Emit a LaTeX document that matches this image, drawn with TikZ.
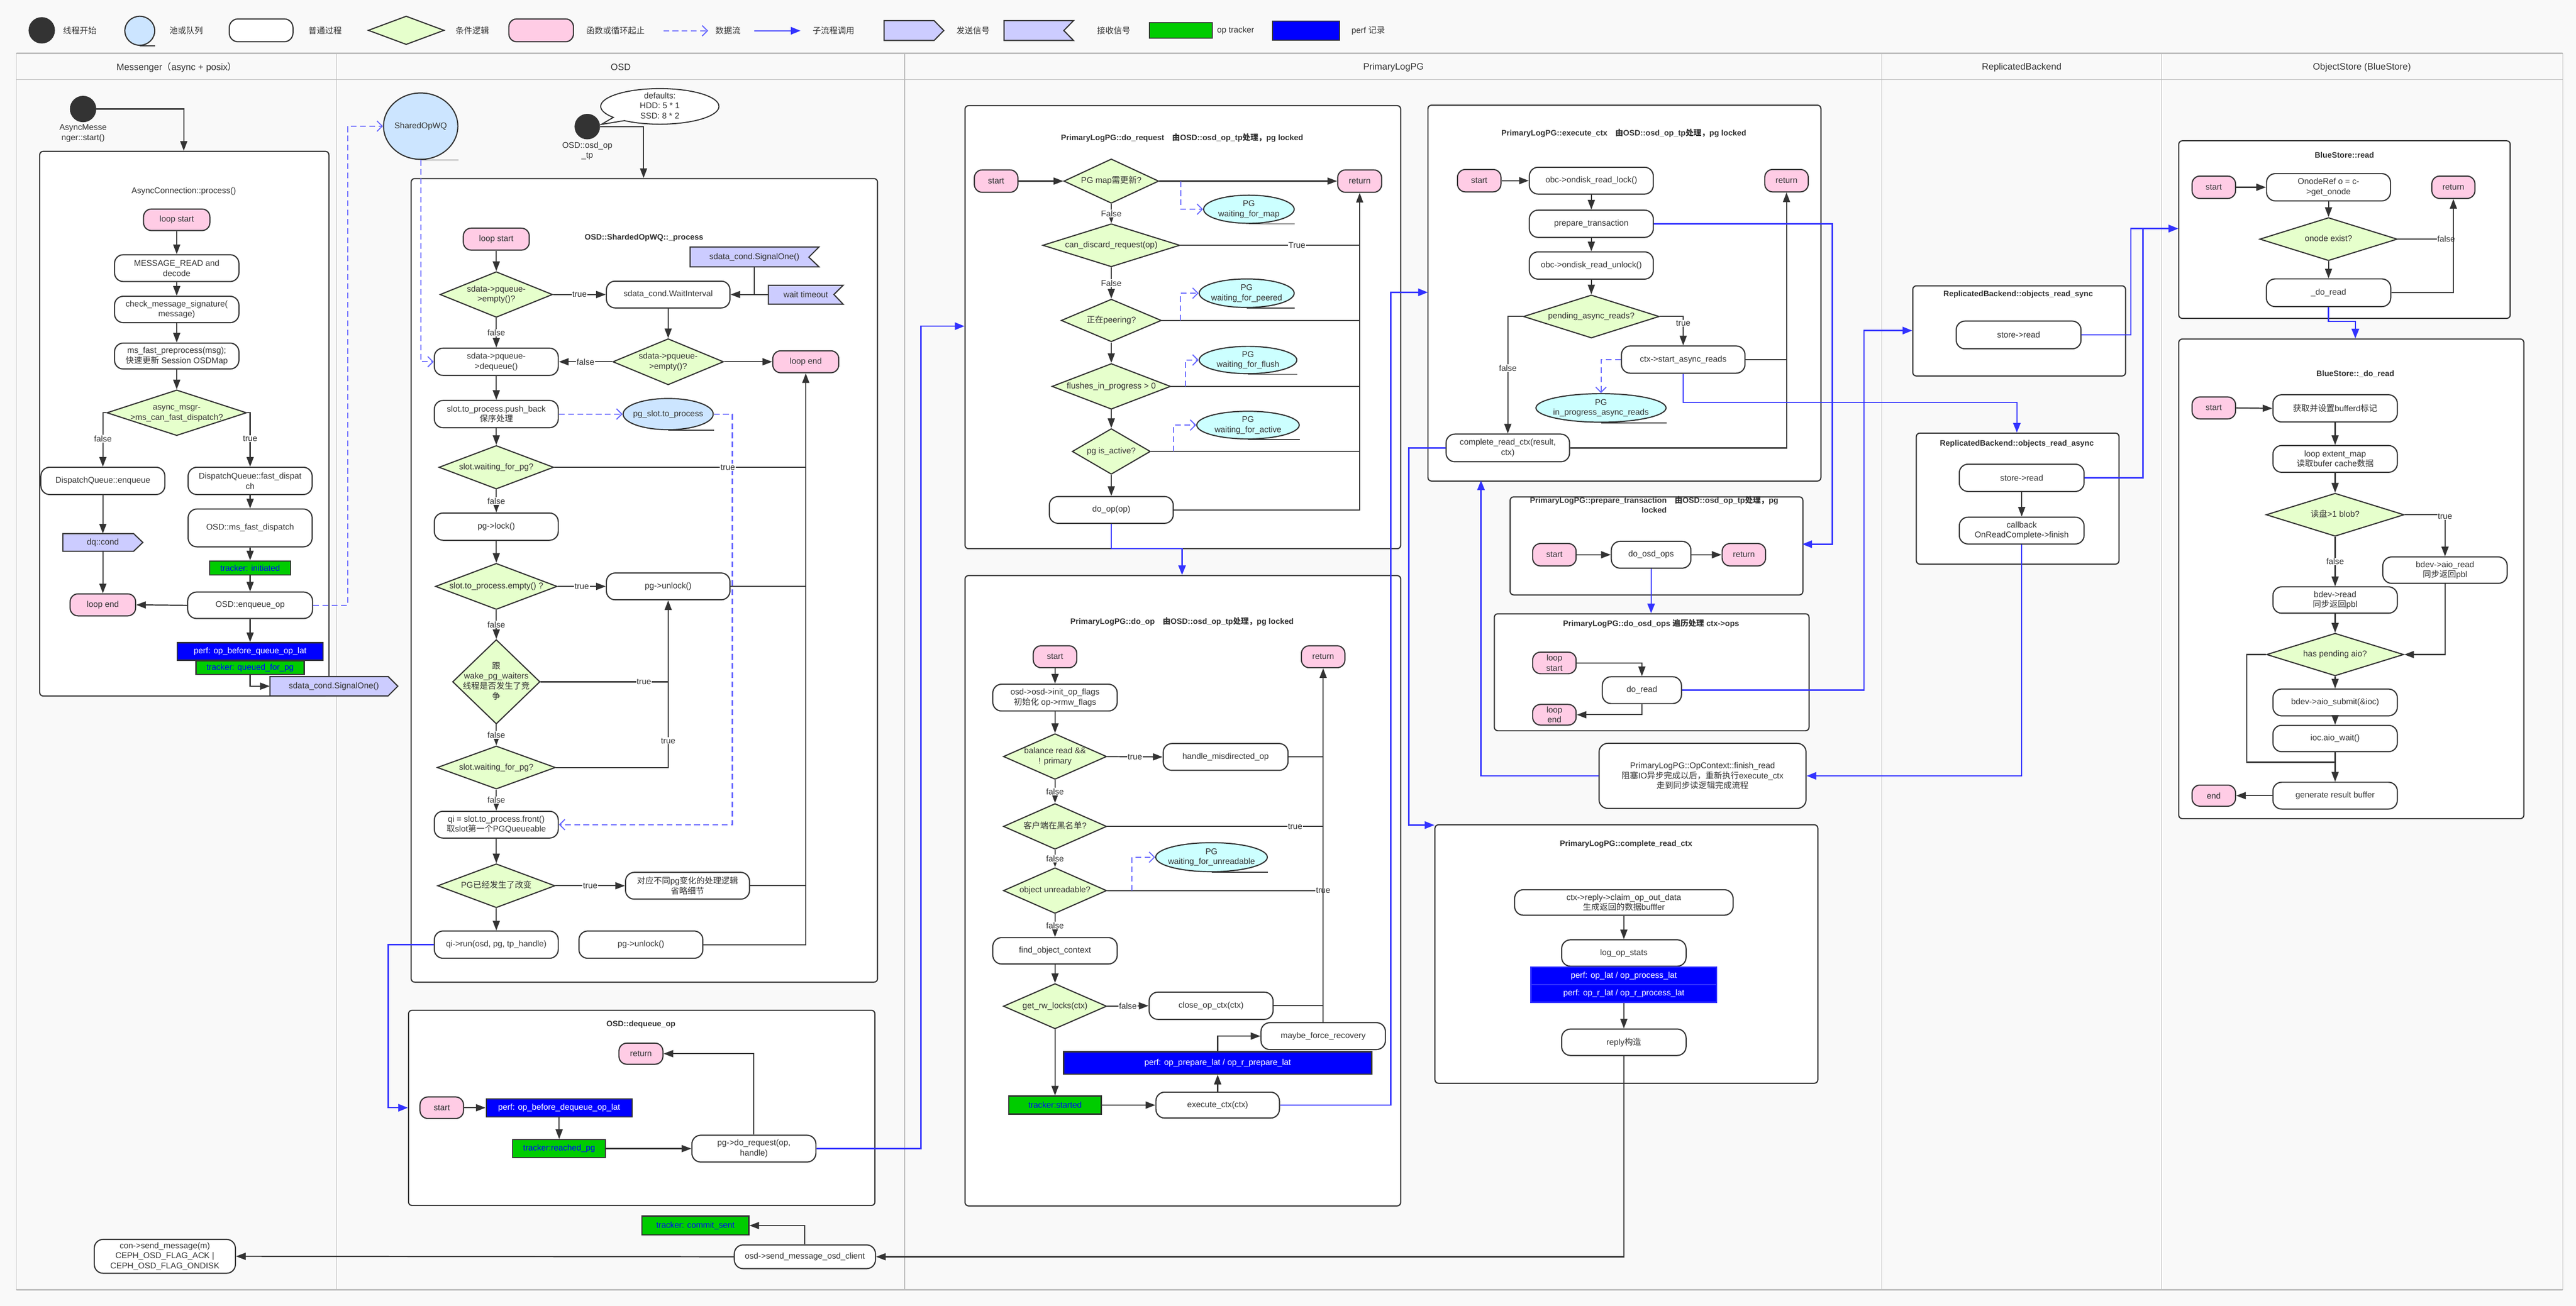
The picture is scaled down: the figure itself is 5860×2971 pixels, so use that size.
\documentclass[tikz,border=0pt]{standalone}
\usepackage{fontspec}
\setmainfont{Liberation Sans}
\newfontfamily\cjk{Noto Sans CJK SC}
\usetikzlibrary{arrows.meta,shapes.geometric,shapes.callouts}
\definecolor{dk}{HTML}{333333}
\definecolor{pinkc}{HTML}{FFCCE5}
\definecolor{greenc}{HTML}{E6FFCC}
\definecolor{qbl}{HTML}{CCE5FF}
\definecolor{cyc}{HTML}{CCFFFF}
\definecolor{sigc}{HTML}{CCCCFF}
\definecolor{trkc}{HTML}{00CC00}
\definecolor{bluec}{HTML}{3333FF}
\definecolor{dashc}{HTML}{6666FF}
\definecolor{perfc}{HTML}{0000FF}
\definecolor{bgc}{HTML}{F9F9F9}
\definecolor{lanec}{HTML}{BBBBBB}
\newcommand\zt[1]{\makebox[0pt]{\smash{\raisebox{-0.25em}{\begin{tabular}{@{}c@{}}#1\end{tabular}}}}}
\newcommand\zh[1]{{\cjk #1}}
\AtBeginDocument{\catcode`\_=12 }
\tikzset{
 base/.style={font=\fontsize{19}{23}\selectfont, text=dk},
 box/.style={base, draw=dk, line width=2.6pt, rounded corners=20pt, fill=white, align=center, inner sep=0pt},
 pbox/.style={box, fill=pinkc, rounded corners=18pt},
 dia/.style={base, draw=dk, line width=2.6pt, diamond, fill=greenc, inner sep=0pt},
 elq/.style={base, draw=dk, line width=2.6pt, ellipse, fill=qbl, inner sep=0pt},
 elc/.style={elq, fill=cyc},
 trk/.style={base, draw=dk, line width=2.6pt, fill=trkc, text=perfc, inner sep=0pt},
 prf/.style={base, draw=dk, line width=2.6pt, fill=perfc, text=white, inner sep=0pt},
 cont/.style={draw=dk, line width=2.6pt, rounded corners=8pt, fill=white, inner sep=0pt, anchor=north west},
 ttl/.style={base, font=\fontsize{18}{22}\selectfont\bfseries, align=center},
 lbl/.style={base, fill=white, inner sep=1.5pt},
 ln/.style={draw=dk, line width=2.6pt, -{Triangle[length=22pt,width=16pt]}},
 ln0/.style={draw=dk, line width=2.6pt},
 tail/.style={draw=dk, line width=2pt},
 bl/.style={draw=bluec, line width=2.8pt, -{Triangle[length=22pt,width=17pt]}},
 dsh/.style={draw=dashc, line width=2.4pt, dash pattern=on 13pt off 8pt, -{Straight Barb[length=12pt,width=24pt]}},
 sig/.style={draw=dk, line width=2.6pt, fill=sigc},
 sigt/.style={base, inner sep=0pt},
 lgt/.style={base, anchor=west},
 hdr/.style={base, font=\fontsize{21}{25}\selectfont},
 dot/.style={circle, fill=dk, inner sep=0pt, minimum size=60pt},
}
\begin{document}
\begin{tikzpicture}[x=1pt,y=-1pt]
\useasboundingbox (0,0) rectangle (5860,2971);
\fill[bgc] (0,0) rectangle (5860,2971);
% ---------- lanes ----------
\draw[lanec, line width=1.5pt] (37,121) rectangle (5830,2934);
\draw[lanec, line width=3pt] (37,121) -- (5830,121);
\draw[lanec, line width=3pt] (37,2934) -- (5830,2934);
\draw[lanec, line width=1.5pt] (37,181) -- (5830,181);
\foreach \x in {766,2058,4281,4917} \draw[lanec, line width=1.5pt] (\x,121) -- (\x,2934);
\node[hdr] (h1) at (402,153) {Messenger\zh{（}async + posix\zh{）}};
\node[hdr] (h2) at (1412,153) {OSD};
\node[hdr] (h3) at (3170,153) {PrimaryLogPG};
\node[hdr] (h4) at (4599,153) {ReplicatedBackend};
\node[hdr] (h5) at (5373,153) {ObjectStore (BlueStore)};
% ---------- legend ----------
\node[dot] (lg1) at (95,69) {};
\node[lgt] (lg1t) at (140,70) {\zh{线程开始}};
\node[elq, minimum width=68pt, minimum height=66pt] (lg2) at (318,70) {};
\draw[tail] (lg2.south) -- (lg2.south -| lg2.east);
\node[lgt] (lg2t) at (382,70) {\zh{池或队列}};
\node[box, minimum width=145pt, minimum height=52pt] (lg3) at (594,69) {};
\node[lgt] (lg3t) at (698,70) {\zh{普通过程}};
\node[dia, minimum width=173pt, minimum height=65pt] (lg4) at (924,69) {};
\node[lgt] (lg4t) at (1033,70) {\zh{条件逻辑}};
\node[pbox, minimum width=147pt, minimum height=52pt] (lg5) at (1231,69) {};
\node[lgt] (lg5t) at (1330,70) {\zh{函数或循环起止}};
\coordinate (lg6a) at (1509,70); \coordinate (lg6b) at (1611,70);
\node[lgt] (lg6t) at (1624,70) {\zh{数据流}};
\coordinate (lg7a) at (1716,70); \coordinate (lg7b) at (1821,70);
\node[lgt] (lg7t) at (1845,70) {\zh{子流程调用}};
\draw[sig] (2011,47) -- (2125,47) -- (2147,69.5) -- (2125,92) -- (2011,92) -- cycle;
\node[sigt, minimum width=136pt, minimum height=45pt] (lg8) at (2079,69.5) {};
\node[lgt] (lg8t) at (2172,70) {\zh{发送信号}};
\draw[sig] (2284,47) -- (2442,47) -- (2420,69.5) -- (2442,92) -- (2284,92) -- cycle;
\node[sigt, minimum width=158pt, minimum height=45pt] (lg9) at (2363,69.5) {};
\node[lgt] (lg9t) at (2492,70) {\zh{接收信号}};
\node[trk, minimum width=143pt, minimum height=35pt] (lg10) at (2686,69.5) {};
\node[lgt] (lg10t) at (2765,70) {op tracker};
\node[prf, minimum width=153pt, minimum height=43pt] (lg11) at (2971,69.5) {};
\node[lgt] (lg11t) at (3071,70) {perf \zh{记录}};
% ---------- Messenger ----------
\node[dot] (m0) at (189,248) {};
\node[base, align=center] (m0t) at (189,303) {AsyncMesse\\nger::start()};
\node[cont, minimum width=658pt, minimum height=1239pt] (mcont) at (89,343) {};
\coordinate (mct) at (418,343);
\node[base] (mttl) at (418,435) {AsyncConnection::process()};
\node[pbox, minimum width=151pt, minimum height=49pt] (mls) at (402,500) {loop start};
\node[box, minimum width=283pt, minimum height=61pt] (mrd) at (402,610) {MESSAGE_READ and\\decode};
\node[box, minimum width=283pt, minimum height=60pt] (mchk) at (402,704) {check_message_signature(\\message)};
\node[box, minimum width=283pt, minimum height=59pt] (mfp) at (402,810) {ms_fast_preprocess(msg);\\\zh{快速更新} Session OSDMap};
\node[dia, minimum width=318pt, minimum height=104pt] (mdia) at (402,939) {\zt{async_msgr-\\>ms_can_fast_dispatch?}};
\node[box, minimum width=282pt, minimum height=62pt] (menq) at (234,1094) {DispatchQueue::enqueue};
\node[box, minimum width=282pt, minimum height=62pt] (mfd) at (569,1094) {DispatchQueue::fast_dispat\\ch};
\node[box, minimum width=282pt, minimum height=86pt] (mmfd) at (569,1201) {OSD::ms_fast_dispatch};
\node[trk, minimum width=184pt, minimum height=32pt] (mtri) at (569,1292) {tracker: initiated};
\node[box, minimum width=284pt, minimum height=60pt] (meo) at (569,1377) {OSD::enqueue_op};
\node[pbox, minimum width=149pt, minimum height=50pt] (mle) at (234,1376) {loop end};
\draw[sig] (143,1214) -- (304,1214) -- (325,1234) -- (304,1254) -- (143,1254) -- cycle;
\node[sigt, minimum width=182pt, minimum height=40pt] (mdq) at (234,1234) {dq::cond};
\node[prf, minimum width=332pt, minimum height=40pt] (mperf) at (569,1482) {perf: op_before_queue_op_lat};
\node[trk, minimum width=246pt, minimum height=30pt] (mtrq) at (569,1519) {tracker: queued_for_pg};
\draw[sig] (614,1539) -- (883,1539) -- (905,1561) -- (883,1583) -- (614,1583) -- cycle;
\node[sigt, minimum width=291pt, minimum height=44pt] (msig) at (759.5,1561) {sdata_cond.SignalOne()};
% ---------- OSD ----------
\node[elq, minimum width=169pt, minimum height=151pt] (sq) at (957,287) {\zt{SharedOpWQ}};
\draw[tail] (sq.south) -- (sq.south -| sq.east);
\node[dot, minimum size=58pt] (oc) at (1336,288) {};
\node[base, align=center] (octx) at (1336,343) {OSD::osd_op\\_tp};
\node[ellipse callout, draw=dk, fill=white, line width=2.4pt, minimum width=269pt, minimum height=81pt, inner sep=0pt, callout absolute pointer={(1368,283)}, base] (odef) at (1501,242) {\zt{defaults:\\HDD: 5 * 1\\SSD: 8 * 2}};
\node[cont, minimum width=1061pt, minimum height=1828pt] (ocont) at (934,405) {};
\coordinate (ocin) at (1464,405);
\node[ttl] (ottl) at (1465,541) {OSD::ShardedOpWQ::_process};
\node[pbox, minimum width=150pt, minimum height=50pt] (ols) at (1129,544) {loop start};
\node[dia, minimum width=256pt, minimum height=104pt] (od1) at (1129,670) {\zt{sdata->pqueue-\\>empty()?}};
\node[box, minimum width=281pt, minimum height=61pt] (owi) at (1520,670) {sdata_cond.WaitInterval};
\draw[sig] (1570,562) -- (1863,562) -- (1840,585) -- (1863,607) -- (1570,607) -- cycle;
\node[sigt, minimum width=293pt, minimum height=45pt] (osig) at (1716,585) {sdata_cond.SignalOne()};
\draw[sig] (1748,649) -- (1918,649) -- (1897,670) -- (1918,692) -- (1748,692) -- cycle;
\node[sigt, minimum width=170pt, minimum height=43pt] (owt) at (1833,670) {wait timeout};
\node[dia, minimum width=252pt, minimum height=105pt] (od2) at (1520,823) {\zt{sdata->pqueue-\\>empty()?}};
\node[pbox, minimum width=150pt, minimum height=50pt] (ole) at (1833,823) {loop end};
\node[box, minimum width=282pt, minimum height=62pt] (odq) at (1129,823) {sdata->pqueue-\\>dequeue()};
\node[box, minimum width=282pt, minimum height=62pt] (opb) at (1129,942) {slot.to_process.push_back\\\zh{保序处理}};
\node[elq, minimum width=205pt, minimum height=71pt] (opsq) at (1520,942) {\zt{pg_slot.to_process}};
\draw[tail] (opsq.south) -- (opsq.south -| opsq.east);
\node[dia, minimum width=261pt, minimum height=99pt] (od3) at (1129,1063) {\zt{slot.waiting_for_pg?}};
\node[box, minimum width=282pt, minimum height=62pt] (olk) at (1129,1198) {pg->lock()};
\node[dia, minimum width=277pt, minimum height=105pt] (od4) at (1129,1334) {\zt{slot.to_process.empty() ?}};
\node[box, minimum width=281pt, minimum height=61pt] (oul1) at (1520,1334) {pg->unlock()};
\node[dia, minimum width=199pt, minimum height=192pt] (od5) at (1129,1551) {\zt{\zh{跟}\\wake_pg_waiters\\\zh{线程是否发生了竞}\\\zh{争}}};
\node[dia, minimum width=269pt, minimum height=98pt] (od6) at (1129,1746) {\zt{slot.waiting_for_pg?}};
\node[box, minimum width=282pt, minimum height=61pt] (oqi) at (1129,1876) {qi = slot.to_process.front()\\\zh{取}slot\zh{第一个}PGQueueable};
\node[dia, minimum width=267pt, minimum height=100pt] (od7) at (1129,2015) {\zt{PG\zh{已经发生了改变}}};
\node[box, minimum width=282pt, minimum height=61pt] (opc) at (1564,2015) {\zh{对应不同}pg\zh{变化的处理逻辑}\\\zh{省略细节}};
\node[box, minimum width=282pt, minimum height=62pt] (orun) at (1129,2149) {qi->run(osd, pg, tp_handle)};
\node[box, minimum width=282pt, minimum height=62pt] (oul2) at (1458,2149) {pg->unlock()};
\node[cont, minimum width=1061pt, minimum height=444pt] (dcont) at (928,2297) {};
\coordinate (dci) at (928,2520);
\node[ttl] (dttl) at (1458,2331) {OSD::dequeue_op};
\node[pbox, minimum width=100pt, minimum height=48pt] (dret) at (1458,2397) {return};
\node[pbox, minimum width=99pt, minimum height=49pt] (dst) at (1005,2520) {start};
\node[prf, minimum width=332pt, minimum height=41pt] (dperf) at (1272,2520) {perf: op_before_dequeue_op_lat};
\node[trk, minimum width=211pt, minimum height=41pt] (dtrk) at (1272,2613) {tracker:reached_pg};
\node[box, minimum width=282pt, minimum height=61pt] (ddr) at (1715,2613) {pg->do_request(op,\\handle)};
\node[trk, minimum width=243pt, minimum height=43pt] (ctrk) at (1582,2788) {tracker: commit_sent};
\node[box, minimum width=321pt, minimum height=54pt] (osm) at (1831,2859) {osd->send_message_osd_client};
\node[box, minimum width=321pt, minimum height=77pt] (mcon) at (375,2858) {con->send_message(m)\\CEPH_OSD_FLAG_ACK |\\CEPH_OSD_FLAG_ONDISK};
% ---------- PrimaryLogPG: do_request ----------
\node[cont, minimum width=991pt, minimum height=1008pt] (rcont) at (2194,239) {};
\coordinate (rqi) at (2194,742);
\node[ttl] (rttl) at (2689,314) {PrimaryLogPG::do_request\quad\zh{由}OSD::osd_op_tp\zh{处理，}pg locked};
\node[pbox, minimum width=99pt, minimum height=51pt] (rst) at (2266,412) {start};
\node[dia, minimum width=216pt, minimum height=101pt] (rd1) at (2528,412) {\zt{PG map\zh{需更新}?}};
\node[pbox, minimum width=100pt, minimum height=51pt] (rret) at (3093,412) {return};
\node[elc, minimum width=206pt, minimum height=64pt] (re1) at (2841,476) {\zt{PG\\waiting_for_map}};
\draw[tail] (re1.south) -- (re1.south -| re1.east);
\node[dia, minimum width=312pt, minimum height=98pt] (rd2) at (2528,558) {\zt{can_discard_request(op)}};
\node[dia, minimum width=228pt, minimum height=97pt] (rd3) at (2528,729) {\zt{\zh{正在}peering?}};
\node[elc, minimum width=216pt, minimum height=65pt] (re2) at (2836,667) {\zt{PG\\waiting_for_peered}};
\draw[tail] (re2.south) -- (re2.south -| re2.east);
\node[dia, minimum width=270pt, minimum height=104pt] (rd4) at (2528,879) {\zt{flushes_in_progress > 0}};
\node[elc, minimum width=222pt, minimum height=62pt] (re3) at (2839,819) {\zt{PG\\waiting_for_flush}};
\draw[tail] (re3.south) -- (re3.south -| re3.east);
\node[dia, minimum width=178pt, minimum height=104pt] (rd5) at (2528,1027) {\zt{pg is_active?}};
\node[elc, minimum width=233pt, minimum height=63pt] (re4) at (2839,967) {\zt{PG\\waiting_for_active}};
\draw[tail] (re4.south) -- (re4.south -| re4.east);
\node[box, minimum width=282pt, minimum height=61pt] (rdo) at (2528,1160) {do_op(op)};
% ---------- PrimaryLogPG: do_op ----------
\node[cont, minimum width=991pt, minimum height=1434pt] (pcont) at (2194,1308) {};
\coordinate (pot) at (2689,1308);
\node[ttl] (pttl) at (2689,1414) {PrimaryLogPG::do_op\quad\zh{由}OSD::osd_op_tp\zh{处理，}pg locked};
\node[pbox, minimum width=99pt, minimum height=50pt] (pst) at (2400,1494) {start};
\node[box, minimum width=283pt, minimum height=61pt] (pinit) at (2400,1587) {osd->osd->init_op_flags\\\zh{初始化} op->rmw_flags};
\node[dia, minimum width=235pt, minimum height=104pt] (pd1) at (2400,1721) {\zt{balance read \&\&\\! primary}};
\node[box, minimum width=284pt, minimum height=61pt] (phm) at (2788,1722) {handle_misdirected_op};
\node[dia, minimum width=235pt, minimum height=104pt] (pd2) at (2400,1880) {\zt{\zh{客户端在黑名单}?}};
\node[dia, minimum width=235pt, minimum height=104pt] (pd3) at (2400,2026) {\zt{object unreadable?}};
\node[elc, minimum width=254pt, minimum height=66pt] (pe1) at (2756,1950) {\zt{PG\\waiting_for_unreadable}};
\draw[tail] (pe1.south) -- (pe1.south -| pe1.east);
\node[box, minimum width=283pt, minimum height=60pt] (pfoc) at (2400,2163) {find_object_context};
\node[dia, minimum width=235pt, minimum height=103pt] (pd4) at (2400,2289) {\zt{get_rw_locks(ctx)}};
\node[box, minimum width=282pt, minimum height=62pt] (pclose) at (2755,2288) {close_op_ctx(ctx)};
\node[box, minimum width=283pt, minimum height=61pt] (pmfr) at (3010,2357) {maybe_force_recovery};
\node[pbox, minimum width=99pt, minimum height=50pt] (pret) at (3010,1494) {return};
\node[prf, minimum width=701pt, minimum height=51pt] (pperf) at (2770,2418) {perf: op_prepare_lat / op_r_prepare_lat};
\node[box, minimum width=281pt, minimum height=59pt] (pexe) at (2770,2514) {execute_ctx(ctx)};
\node[trk, minimum width=210pt, minimum height=41pt] (ptrk) at (2400,2514) {tracker:started};
% ---------- PrimaryLogPG: execute_ctx ----------
\node[cont, minimum width=894pt, minimum height=855pt] (econt) at (3247,238) {};
\coordinate (ecin) at (3248,665);
\coordinate (ebin) at (3369,1093);
\node[ttl] (ettl) at (3694,303) {PrimaryLogPG::execute_ctx\quad\zh{由}OSD::osd_op_tp\zh{处理，}pg locked};
\node[pbox, minimum width=99pt, minimum height=51pt] (est) at (3365,411) {start};
\node[box, minimum width=282pt, minimum height=61pt] (erl) at (3620,411) {obc->ondisk_read_lock()};
\node[pbox, minimum width=99pt, minimum height=51pt] (eret) at (4064,411) {return};
\node[box, minimum width=282pt, minimum height=62pt] (ept) at (3620,509) {prepare_transaction};
\node[box, minimum width=282pt, minimum height=62pt] (eul) at (3620,604) {obc->ondisk_read_unlock()};
\node[dia, minimum width=309pt, minimum height=98pt] (ed) at (3620,720) {\zt{pending_async_reads?}};
\node[box, minimum width=281pt, minimum height=62pt] (esar) at (3829,818) {ctx->start_async_reads};
\node[elc, minimum width=296pt, minimum height=65pt] (ee) at (3642,928) {\zt{PG\\in_progress_async_reads}};
\draw[tail] (ee.south) -- (ee.south -| ee.east);
\node[box, minimum width=281pt, minimum height=63pt] (ecr) at (3430,1019) {complete_read_ctx(result,\\ctx)};
% ---------- prepare_transaction / do_osd_ops ----------
\node[cont, minimum width=666pt, minimum height=223pt] (tcont) at (3434,1129) {};
\coordinate (ptin) at (4100,1238);
\node[ttl] (tttl) at (3763,1148) {PrimaryLogPG::prepare_transaction\quad\zh{由}OSD::osd_op_tp\zh{处理，}pg\\locked};
\node[pbox, minimum width=99pt, minimum height=51pt] (tst) at (3536,1262) {start};
\node[box, minimum width=181pt, minimum height=61pt] (tdo) at (3756,1262) {do_osd_ops};
\node[pbox, minimum width=99pt, minimum height=51pt] (tret) at (3967,1262) {return};
\node[cont, minimum width=716pt, minimum height=266pt] (scont) at (3398,1395) {};
\coordinate (oin) at (3756,1395);
\node[ttl] (sttl) at (3756,1419) {PrimaryLogPG::do_osd_ops \zh{遍历处理} ctx->ops};
\node[pbox, minimum width=99pt, minimum height=49pt] (sls) at (3536,1508) {loop\\start};
\node[box, minimum width=180pt, minimum height=61pt] (sdr) at (3735,1570) {do_read};
\node[pbox, minimum width=99pt, minimum height=47pt] (sle) at (3536,1626) {loop\\end};
\node[box, minimum width=471pt, minimum height=148pt] (ffr) at (3873,1765) {PrimaryLogPG::OpContext::finish_read\\\zh{阻塞}IO\zh{异步完成以后，重新执行}execute_ctx\\\zh{走到同步读逻辑完成流程}};
% ---------- complete_read_ctx ----------
\node[cont, minimum width=871pt, minimum height=588pt] (ccont) at (3263,1875) {};
\coordinate (crin) at (3263,1877);
\node[ttl] (cttl) at (3699,1920) {PrimaryLogPG::complete_read_ctx};
\node[box, minimum width=497pt, minimum height=58pt] (cclaim) at (3694,2053) {ctx->reply->claim_op_out_data\\\zh{生成返回的数据}bufffer};
\node[box, minimum width=283pt, minimum height=60pt] (clog) at (3694,2168) {log_op_stats};
\node[prf, draw=bluec, minimum width=423pt, minimum height=40pt] (cp1) at (3694,2220) {perf: op_lat / op_process_lat};
\node[prf, draw=bluec, minimum width=423pt, minimum height=40pt] (cp2) at (3694,2260) {perf: op_r_lat / op_r_process_lat};
\node[box, minimum width=283pt, minimum height=60pt] (creply) at (3694,2371) {reply\zh{构造}};
% ---------- ReplicatedBackend ----------
\node[cont, minimum width=484pt, minimum height=205pt] (rscont) at (4350,649) {};
\coordinate (rsin) at (4350,752);
\node[ttl] (rsttl) at (4591,670) {ReplicatedBackend::objects_read_sync};
\node[box, minimum width=284pt, minimum height=63pt] (rsr) at (4592,762) {store->read};
\node[cont, minimum width=461pt, minimum height=298pt] (racont) at (4358,984) {};
\coordinate (rain) at (4588,984);
\node[ttl] (rattl) at (4588,1010) {ReplicatedBackend::objects_read_async};
\node[box, minimum width=284pt, minimum height=62pt] (rar) at (4599,1087) {store->read};
\node[box, minimum width=284pt, minimum height=61pt] (rcb) at (4599,1207) {callback\\OnReadComplete->finish};
% ---------- BlueStore::read ----------
\node[cont, minimum width=754pt, minimum height=404pt] (bcont) at (4955,319) {};
\coordinate (bsin) at (4955,520);
\node[ttl] (bttl) at (5333,353) {BlueStore::read};
\node[pbox, minimum width=99pt, minimum height=51pt] (bst) at (5036,426) {start};
\node[box, minimum width=282pt, minimum height=62pt] (bgo) at (5297,426) {OnodeRef o = c-\\>get_onode};
\node[pbox, minimum width=98pt, minimum height=51pt] (bret) at (5581,426) {return};
\node[dia, minimum width=313pt, minimum height=98pt] (bd) at (5297,544) {\zt{onode exist?}};
\node[box, minimum width=283pt, minimum height=63pt] (bdr) at (5297,666) {_do_read};
% ---------- BlueStore::_do_read ----------
\node[cont, minimum width=785pt, minimum height=1091pt] (xcont) at (4955,770) {};
\coordinate (dcin) at (5358,770);
\node[ttl] (xttl) at (5358,851) {BlueStore::_do_read};
\node[pbox, minimum width=99pt, minimum height=50pt] (xst) at (5036,928) {start};
\node[box, minimum width=283pt, minimum height=62pt] (xgb) at (5312,929) {\zh{获取并设置}bufferd\zh{标记}};
\node[box, minimum width=283pt, minimum height=61pt] (xlp) at (5312,1044) {loop extent_map\\\zh{读取}bufer cache\zh{数据}};
\node[dia, minimum width=314pt, minimum height=98pt] (xd1) at (5312,1171) {\zt{\zh{读盘}>1 blob?}};
\node[box, minimum width=283pt, minimum height=60pt] (xar) at (5562,1297) {bdev->aio_read\\\zh{同步返回}pbl};
\node[box, minimum width=283pt, minimum height=60pt] (xbr) at (5312,1365) {bdev->read\\\zh{同步返回}pbl};
\node[dia, minimum width=312pt, minimum height=97pt] (xd2) at (5312,1489) {\zt{has pending aio?}};
\node[box, minimum width=283pt, minimum height=61pt] (xsub) at (5312,1598) {bdev->aio_submit(\&ioc)};
\node[box, minimum width=283pt, minimum height=60pt] (xwait) at (5312,1680) {ioc.aio_wait()};
\node[box, minimum width=283pt, minimum height=61pt] (xgen) at (5312,1810) {generate result buffer};
\node[pbox, minimum width=99pt, minimum height=48pt] (xend) at (5036,1810) {end};
% ================= connectors =================
\draw[dsh] (lg6a) -- (lg6b);
\draw[bl] (lg7a) -- (lg7b);
% Messenger
\draw[ln] (m0.east) -| (mct);
\draw[ln] (mls.south) -- (mrd.north);
\draw[ln] (mrd.south) -- (mchk.north);
\draw[ln] (mchk.south) -- (mfp.north);
\draw[ln] (mfp.south) -- (mdia.north);
\draw[ln] (mdia.west) -| node[lbl, pos=.74] {false} (menq.north);
\draw[ln] (mdia.east) -| node[lbl, pos=.74] {true} (mfd.north);
\draw[ln] (menq.south) -- (mdq.north);
\draw[ln] (mdq.south) -- (mle.north);
\draw[ln] (mfd.south) -- (mmfd.north);
\draw[ln] (mmfd.south) -- (mtri.north);
\draw[ln] (mtri.south) -- (meo.north);
\draw[ln] (meo.west) -- (mle.east);
\draw[ln] (meo.south) -- (mperf.north);
\draw[ln] (mtrq.south) |- (msig.west);
\draw[dsh] (meo.east) -- (791,1377) |- (sq.west);
% OSD
\draw[dsh] (sq.south) |- (odq.west);
\draw[ln] (oc.east) -| (ocin);
\draw[ln] (ols.south) -- (od1.north);
\draw[ln] (od1.east) -- node[lbl] {true} (owi.west);
\draw[ln0] (osig.south) -- (osig.south |- owi.east);
\draw[ln] (owt.west) -- (owi.east);
\draw[ln] (owi.south) -- (od2.north);
\draw[ln] (od2.west) -- node[lbl] {false} (odq.east);
\draw[ln] (od2.east) -- (ole.west);
\draw[ln] (od1.south) -- node[lbl] {false} (odq.north);
\draw[ln] (odq.south) -- (opb.north);
\draw[dsh] (opb.east) -- (opsq.west);
\draw[dsh] (opsq.east) -- (1666,942) |- (oqi.east);
\draw[ln] (opb.south) -- (od3.north);
\draw[ln] (oul2.east) -| (ole.south);
\draw[ln0] (od3.east) -- node[lbl, pos=.69] {true} (od3.east -| ole.south);
\draw[ln0] (oul1.east) -- (oul1.east -| ole.south);
\draw[ln0] (opc.east) -- (opc.east -| ole.south);
\draw[ln] (od3.south) -- node[lbl] {false} (olk.north);
\draw[ln] (olk.south) -- (od4.north);
\draw[ln] (od4.east) -- node[lbl] {true} (oul1.west);
\draw[ln] (od4.south) -- node[lbl] {false} (od5.north);
\draw[ln0] (od5.east) -- node[lbl, pos=.81] {true} (od5.east -| oul1.south);
\draw[ln] (od6.east) -| node[lbl, pos=.58] {true} (oul1.south);
\draw[ln] (od5.south) -- node[lbl] {false} (od6.north);
\draw[ln] (od6.south) -- node[lbl] {false} (oqi.north);
\draw[ln] (oqi.south) -- (od7.north);
\draw[ln] (od7.east) -- node[lbl] {true} (opc.west);
\draw[ln] (od7.south) -- (orun.north);
\draw[bl] (orun.west) -- (883,2149) |- (dci);
\draw[ln] (dst.east) -- (dperf.west);
\draw[ln] (dperf.south) -- (dtrk.north);
\draw[ln] (dtrk.east) -- (ddr.west);
\draw[ln] (ddr.north) |- (dret.east);
\draw[bl] (ddr.east) -- (2095,2613) |- (rqi);
\draw[ln] (osm.north) |- (ctrk.east);
\draw[ln] (osm.west) -- (mcon.east);
% do_request
\draw[ln] (rst.east) -- (rd1.west);
\draw[ln] (rd1.east) -- (rret.west);
\draw[dsh] (rd1.east) ++(49,0) |- (re1.west);
\draw[ln] (rd1.south) -- node[lbl] {False} (rd2.north);
\draw[ln0] (rd2.east) -- node[lbl, pos=.65] {True} (rd2.east -| rret.south);
\draw[ln] (rd2.south) -- node[lbl] {False} (rd3.north);
\draw[ln0] (rd3.east) -- (rd3.east -| rret.south);
\draw[dsh] (rd3.east) ++(42,0) |- (re2.west);
\draw[ln] (rd3.south) -- (rd4.north);
\draw[ln0] (rd4.east) -- (rd4.east -| rret.south);
\draw[dsh] (rd4.east) ++(32,0) |- (re3.west);
\draw[ln] (rd4.south) -- (rd5.north);
\draw[ln0] (rd5.east) -- (rd5.east -| rret.south);
\draw[dsh] (rd5.east) ++(52,0) |- (re4.west);
\draw[ln] (rd5.south) -- (rdo.north);
\draw[ln] (rdo.east) -| (rret.south);
\draw[bl] (rdo.south) -- (2528,1248) -| (pot);
% do_op
\draw[ln] (pst.south) -- (pinit.north);
\draw[ln] (pinit.south) -- (pd1.north);
\draw[ln] (pd1.east) -- node[lbl] {true} (phm.west);
\draw[ln0] (phm.east) -- (phm.east -| pret.south);
\draw[ln] (pd1.south) -- node[lbl] {false} (pd2.north);
\draw[ln0] (pd2.east) -- node[lbl, pos=.87] {true} (pd2.east -| pret.south);
\draw[ln] (pd2.south) -- node[lbl] {false} (pd3.north);
\draw[ln0] (pd3.east) -- (pd3.east -| pret.south) node[lbl] {true};
\draw[dsh] (pd3.east) ++(56,0) |- (pe1.west);
\draw[ln] (pd3.south) -- node[lbl] {false} (pfoc.north);
\draw[ln] (pfoc.south) -- (pd4.north);
\draw[ln] (pd4.east) -- node[lbl] {false} (pclose.west);
\draw[ln0] (pclose.east) -- (pclose.east -| pret.south);
\draw[ln] (pmfr.north) -- (pret.south);
\draw[ln] (pd4.south) -- (ptrk.north);
\draw[ln] (ptrk.east) -- (pexe.west);
\draw[ln] (pexe.north) -- (pperf.south);
\draw[ln] (pperf.north) |- (pmfr.west);
\draw[bl] (pexe.east) -- (3164,2514) |- (ecin);
% execute_ctx
\draw[ln] (est.east) -- (erl.west);
\draw[ln] (erl.south) -- (ept.north);
\draw[ln] (ept.south) -- (eul.north);
\draw[ln] (eul.south) -- (ed.north);
\draw[ln] (ed.east) -| node[lbl, pos=.62] {true} (esar.north);
\draw[ln] (ed.west) -| node[lbl, pos=.72] {false} (ecr.north);
\draw[ln] (ecr.east) -| (eret.south);
\draw[ln0] (esar.east) -- (esar.east -| eret.south);
\draw[dsh] (esar.west) -| (ee.north);
\draw[bl] (ept.east) -- (4168,509) |- (ptin);
\draw[bl] (esar.south) -- (3829,915) -| (rain);
\draw[bl] (ecr.west) -- (3205,1019) |- (crin);
% prepare_transaction / do_osd_ops
\draw[ln] (tst.east) -- (tdo.west);
\draw[ln] (tdo.east) -- (tret.west);
\draw[bl] (tdo.south) -- (oin);
\draw[ln] (sls.east) -| (sdr.north);
\draw[ln] (sdr.south) |- (sle.east);
\draw[bl] (sdr.east) -- (4240,1570) |- (rsin);
\draw[bl] (ffr.west) -| (ebin);
% complete_read_ctx
\draw[ln] (cclaim.south) -- (clog.north);
\draw[ln] (cp2.south) -- (creply.north);
\draw[ln] (creply.south) |- (osm.east);
% ReplicatedBackend
\draw[bl] (rsr.east) -- (4847,762) |- (bsin);
\draw[bl] (rar.east) -- (4875,1087) |- (bsin);
\draw[ln] (rar.south) -- (rcb.north);
\draw[bl] (rcb.south) |- (ffr.east);
% BlueStore::read
\draw[ln] (bst.east) -- (bgo.west);
\draw[ln] (bgo.south) -- (bd.north);
\draw[ln] (bd.south) -- (bdr.north);
\draw[ln0] (bd.east) -- node[lbl, pos=.87] {false} (bd.east -| bret.south);
\draw[ln] (bdr.east) -| (bret.south);
\draw[bl] (bdr.south) -- (5297,731) -| (dcin);
% BlueStore::_do_read
\draw[ln] (xst.east) -- (xgb.west);
\draw[ln] (xgb.south) -- (xlp.north);
\draw[ln] (xlp.south) -- (xd1.north);
\draw[ln] (xd1.east) -| node[lbl, pos=.52] {true} (xar.north);
\draw[ln] (xd1.south) -- node[lbl] {false} (xbr.north);
\draw[ln] (xbr.south) -- (xd2.north);
\draw[ln] (xar.south) |- (xd2.east);
\draw[ln] (xd2.south) -- (xsub.north);
\draw[ln] (xsub.south) -- (xwait.north);
\draw[ln0] (xd2.west) -- (5111,1489) |- (5312,1734);
\draw[ln] (xwait.south) -- (xgen.north);
\draw[ln] (xgen.west) -- (xend.east);
\end{tikzpicture}
\end{document}
